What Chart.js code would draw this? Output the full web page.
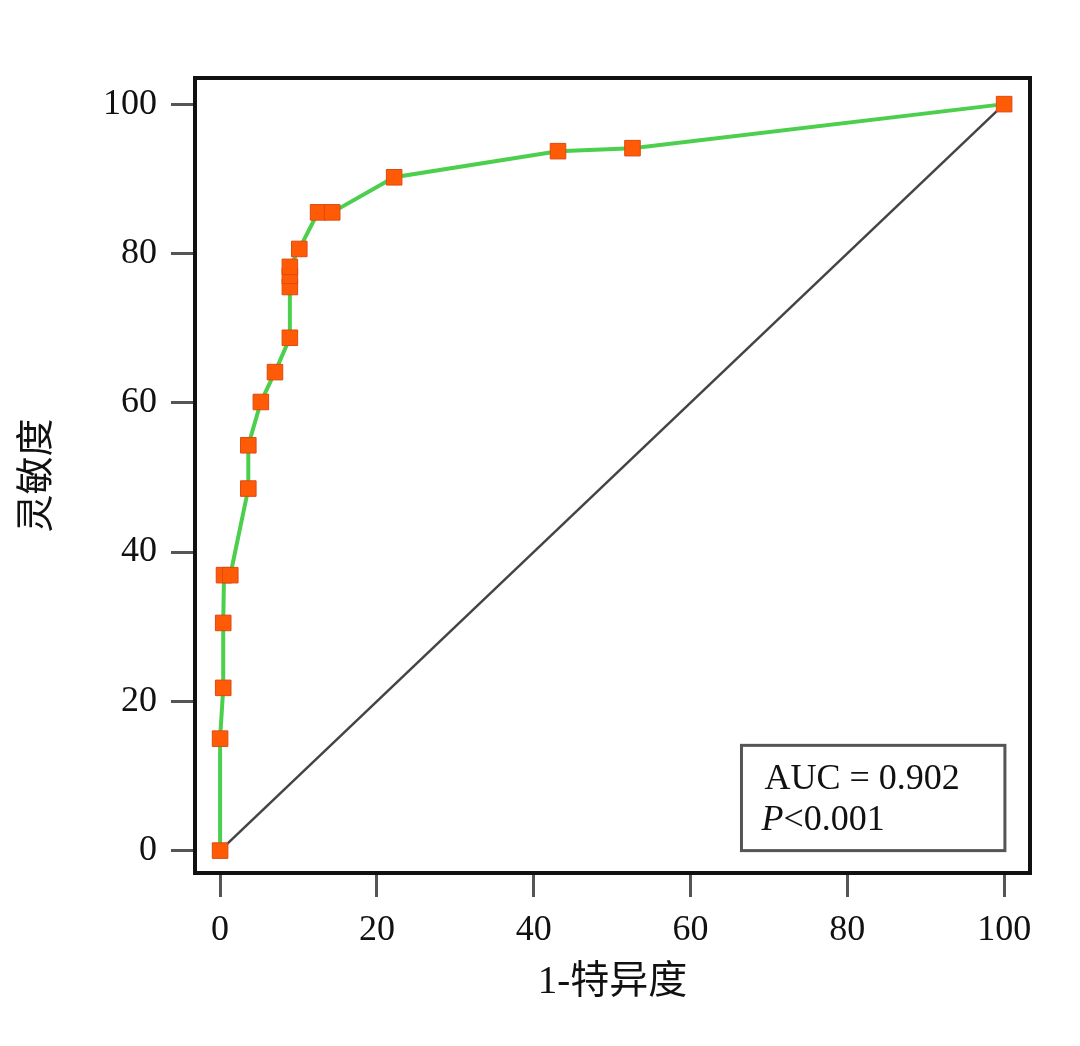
<!DOCTYPE html>
<html>
<head>
<meta charset="utf-8">
<script src="https://cdn.jsdelivr.net/npm/chart.js@4"></script>
<style>
  html, body { margin: 0; padding: 0; background: #fff; }
  #wrap { width: 1080px; height: 1046px; }
</style>
</head>
<body>
<div id="wrap"><canvas id="roc"></canvas></div>
<script>
'use strict';

// ROC-Kurve (1-Spezifität / Sensitivität)
const fpr = [0, 0, 0.4, 0.4, 0.5, 1.3, 3.6, 3.6, 5.2, 7.0, 8.9, 8.9, 8.9, 8.9, 10.1, 12.5, 14.3, 22.2, 43.1, 52.6, 100];
const tpr = [0, 15.0, 21.8, 30.5, 36.9, 36.9, 48.5, 54.3, 60.1, 64.1, 68.7, 75.5, 77.0, 78.2, 80.6, 85.5, 85.5, 90.2, 93.7, 94.1, 100];
const refLine = [0, 100];
const tickValues = [0, 20, 40, 60, 80, 100];
const aucText = 'AUC = 0.902';
const pText = '<0.001';

const serif = "'Liberation Serif', 'Noto Sans CJK SC', serif";

const frame = {
  id: 'frame',
  afterDatasetsDraw(chart) {
    const { ctx, chartArea: a, scales: { x, y } } = chart;
    ctx.save();
    ctx.strokeStyle = '#111';
    ctx.lineWidth = 4;
    ctx.strokeRect(a.left, a.top, a.right - a.left, a.bottom - a.top);

    // Legendenbox unten rechts
    const bx = x.getPixelForValue(66.5), by = y.getPixelForValue(14.1);
    const bw = x.getPixelForValue(100.1) - bx, bh = y.getPixelForValue(0) - by;
    ctx.fillStyle = '#fff';
    ctx.fillRect(bx, by, bw, bh);
    ctx.strokeStyle = '#555';
    ctx.lineWidth = 3;
    ctx.strokeRect(bx, by, bw, bh);

    ctx.fillStyle = '#111';
    ctx.textBaseline = 'alphabetic';
    ctx.font = "36px " + serif;
    ctx.fillText(aucText, bx + 23, by + 44);
    ctx.font = "italic 36px " + serif;
    ctx.fillText('P', bx + 20, by + 85);
    const pw = ctx.measureText('P').width;
    ctx.font = "36px " + serif;
    ctx.fillText(pText, bx + 20 + pw, by + 85);
    ctx.restore();
  }
};

const ctx = document.getElementById('roc').getContext('2d');
new Chart(ctx, {
  type: 'scatter',
  data: {
    datasets: [
      {
        label: 'ROC',
        data: fpr.map((v, i) => ({ x: v, y: tpr[i] })),
        showLine: true,
        borderColor: '#4ccf4c',
        borderWidth: 4,
        pointStyle: 'rect',
        pointRadius: 11,
        pointBackgroundColor: '#ff5a05',
        pointBorderColor: '#dd4a10',
        pointBorderWidth: 1,
        order: 1,
      },
      {
        label: 'Referenz',
        data: refLine.map(v => ({ x: v, y: v })),
        showLine: true,
        borderColor: '#444',
        borderWidth: 2.5,
        pointRadius: 0,
        order: 2,
      },
    ],
  },
  options: {
    responsive: true,
    maintainAspectRatio: false,
    animation: false,
    layout: { padding: { top: 78, right: 50, left: 0, bottom: 0 } },
    plugins: {
      legend: { display: false },
      tooltip: { enabled: false },
    },
    scales: {
      x: {
        type: 'linear',
        min: -3.2,
        max: 103.3,
        afterBuildTicks: s => { s.ticks = tickValues.map(v => ({ value: v })); },
        afterFit: s => { s.height = 173; },
        border: { display: false },
        grid: { drawOnChartArea: false, drawTicks: true, tickLength: 24, tickColor: '#555', tickWidth: 3 },
        ticks: { color: '#111', font: { family: serif, size: 36 }, padding: 12, maxRotation: 0 },
        title: { display: true, text: '1-特异度', color: '#111', font: { family: serif, size: 39 }, padding: { top: 0, bottom: 40 } },
      },
      y: {
        type: 'linear',
        min: -3,
        max: 103.5,
        afterBuildTicks: s => { s.ticks = tickValues.map(v => ({ value: v })); },
        afterFit: s => { s.width = 195; },
        border: { display: false },
        grid: { drawOnChartArea: false, drawTicks: true, tickLength: 24, tickColor: '#555', tickWidth: 3 },
        ticks: { color: '#111', font: { family: serif, size: 36 }, padding: 14 },
        title: { display: true, text: '灵敏度', color: '#111', font: { family: serif, size: 38 }, padding: { top: 15, bottom: 0 } },
      },
    },
  },
  plugins: [frame],
});
</script>
</body>
</html>
